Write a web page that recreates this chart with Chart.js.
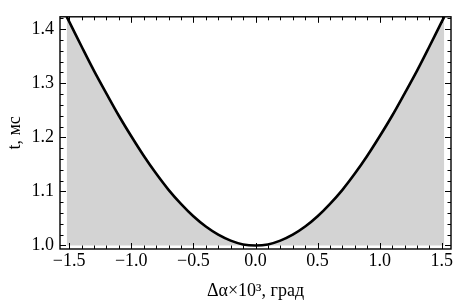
<!DOCTYPE html>
<html>
<head>
<meta charset="utf-8">
<script src="https://cdn.jsdelivr.net/npm/chart.js@4.4.0/dist/chart.umd.min.js"></script>
<style>
  html, body { margin: 0; padding: 0; background: #fff; }
</style>
</head>
<body>
<canvas id="chart" width="476" height="307"></canvas>
<script>
// --- data ---
const dAlpha = [-1.52, -1.5, -1.4, -1.3, -1.2, -1.1, -1.0, -0.9, -0.8, -0.7, -0.6, -0.5, -0.4, -0.3, -0.2, -0.1, 0.0,
                0.1, 0.2, 0.3, 0.4, 0.5, 0.6, 0.7, 0.8, 0.9, 1.0, 1.1, 1.2, 1.3, 1.4, 1.5, 1.52];
const tValues = [1.423, 1.414, 1.368, 1.323, 1.281, 1.240, 1.202, 1.166, 1.133, 1.103, 1.077, 1.054, 1.035, 1.020, 1.009, 1.002, 1.000,
                 1.002, 1.009, 1.020, 1.035, 1.054, 1.077, 1.103, 1.133, 1.166, 1.202, 1.240, 1.281, 1.323, 1.368, 1.414, 1.423];
const xTicks = [-1.5, -1.0, -0.5, 0.0, 0.5, 1.0, 1.5];
const yTicks = [1.0, 1.1, 1.2, 1.3, 1.4];

const serif = 'Liberation Serif, Times New Roman, serif';
const fmt = v => (v < 0 ? '\u2212' : '') + Math.abs(v).toFixed(1);

// frame + inward ticks (major and minor) on all four sides
const framePlugin = {
    id: 'frame',
    afterDraw(chart) {
        const { ctx, chartArea: a, scales: { x, y } } = chart;
        ctx.save();
        ctx.strokeStyle = '#000';
        ctx.lineWidth = 1;
        ctx.beginPath();
        for (let i = -15; i <= 15; i++) {
            const px = Math.round(x.getPixelForValue(i / 10)) + 0.5;
            const len = i % 5 === 0 ? 6 : 3.5;
            ctx.moveTo(px, a.bottom); ctx.lineTo(px, a.bottom - len);
            ctx.moveTo(px, a.top); ctx.lineTo(px, a.top + len);
        }
        for (let j = 50; j <= 71; j++) {
            const py = Math.round(y.getPixelForValue(j / 50)) + 0.5;
            const len = j % 5 === 0 ? 6 : 3.5;
            ctx.moveTo(a.left, py); ctx.lineTo(a.left + len, py);
            ctx.moveTo(a.right, py); ctx.lineTo(a.right - len, py);
        }
        ctx.stroke();
        ctx.lineWidth = 1.4;
        ctx.strokeRect(a.left, a.top, a.right - a.left, a.bottom - a.top);
        ctx.restore();
    }
};

new Chart(document.getElementById('chart').getContext('2d'), {
    type: 'scatter',
    data: {
        datasets: [{
            data: dAlpha.map((v, i) => ({ x: v, y: tValues[i] })),
            showLine: true,
            borderColor: '#000',
            borderWidth: 2.6,
            backgroundColor: '#d3d3d3',
            fill: { value: 1.0 },
            pointRadius: 0,
            cubicInterpolationMode: 'monotone'
        }]
    },
    options: {
        responsive: false,
        animation: false,
        layout: { padding: { top: 6, right: 25, left: 0, bottom: 0 } },
        plugins: { legend: { display: false }, tooltip: { enabled: false } },
        scales: {
            x: {
                type: 'linear', min: -1.574, max: 1.574,
                afterBuildTicks: s => { s.ticks = xTicks.map(v => ({ value: v })); },
                afterFit: s => { s.height = 58; },
                grid: { display: false, drawTicks: false },
                border: { display: false },
                ticks: { autoSkip: false, maxRotation: 0, padding: 1, color: '#000',
                         font: { family: serif, size: 18 }, callback: v => fmt(v) },
                title: { display: true, text: 'Δα×10³, град', color: '#000',
                         font: { family: serif, size: 18 }, padding: { bottom: 5 } }
            },
            y: {
                type: 'linear', min: 0.9935, max: 1.423,
                afterBuildTicks: s => { s.ticks = yTicks.map(v => ({ value: v })); },
                afterFit: s => { s.width = 60; },
                grid: { display: false, drawTicks: false },
                border: { display: false },
                ticks: { autoSkip: false, padding: 6, color: '#000',
                         font: { family: serif, size: 18 }, callback: v => v.toFixed(1) },
                title: { display: true, text: 't, мс', color: '#000',
                         font: { family: serif, size: 18 }, padding: { top: 4 } }
            }
        }
    },
    plugins: [framePlugin]
});
</script>
</body>
</html>
